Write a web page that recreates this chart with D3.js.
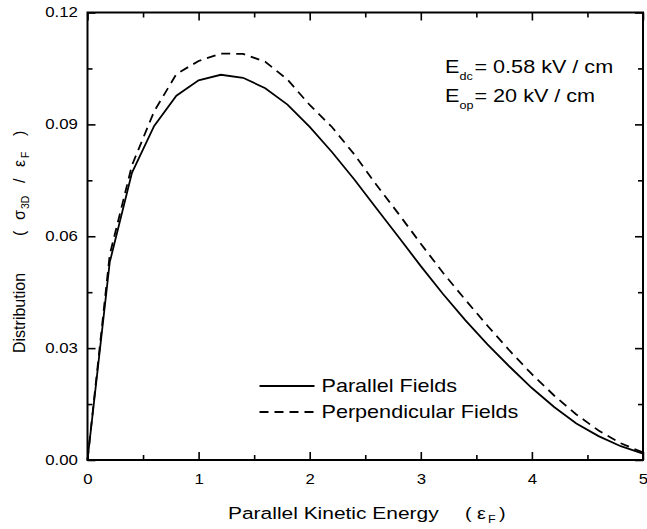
<!DOCTYPE html>
<html>
<head>
<meta charset="utf-8">
<script src="https://cdn.jsdelivr.net/npm/d3@7"></script>
<style>
  body { margin: 0; background: #fff; }
  text { font-family: "Liberation Sans", Arial, sans-serif; fill: #000; }
</style>
</head>
<body>
<div id="chart"></div>
<script>
// Data
var energy = [0, 0.2, 0.4, 0.6, 0.8, 1.0, 1.2, 1.4, 1.6, 1.8, 2.0, 2.2, 2.4, 2.6, 2.8,
              3.0, 3.2, 3.4, 3.6, 3.8, 4.0, 4.2, 4.4, 4.6, 4.8, 5.0];
var parallel = [0, 0.053, 0.077, 0.0896, 0.0977, 0.1018, 0.1033, 0.1025, 0.0997, 0.0953,
                0.0893, 0.0826, 0.0753, 0.0675, 0.0598, 0.052, 0.0445, 0.0375, 0.031,
                0.025, 0.0193, 0.0142, 0.0098, 0.0064, 0.0037, 0.0017];
var perpendicular = [0, 0.055, 0.079, 0.0935, 0.1035, 0.107, 0.109, 0.1089, 0.1068, 0.102,
                     0.0952, 0.0893, 0.082, 0.0738, 0.066, 0.058, 0.0502, 0.043, 0.036,
                     0.0293, 0.023, 0.0173, 0.0122, 0.0079, 0.0045, 0.002];
var xTicks = [0, 1, 2, 3, 4, 5];
var xMinor = [0.5, 1.5, 2.5, 3.5, 4.5];
var yTicks = [0, 0.03, 0.06, 0.09, 0.12];
var yMinor = [0.015, 0.045, 0.075, 0.105];
var seriesNames = ["Parallel Fields", "Perpendicular Fields"];

var width = 647, height = 529;
var margin = { top: 12.5, right: 4, bottom: 69, left: 87.5 };
var w = width - margin.left - margin.right;
var h = height - margin.top - margin.bottom;
var stretch = 1.2;   // the original lettering is wider than Arial

var svg = d3.select("#chart")
    .append("svg")
    .attr("width", width)
    .attr("height", height);

var g = svg.append("g")
    .attr("transform", "translate(" + margin.left + "," + margin.top + ")");

var x = d3.scaleLinear().domain([0, 5]).range([0, w]);
var y = d3.scaleLinear().domain([0, 0.12]).range([h, 0]);

// axes: major ticks with labels, minor ticks without, all pointing inward
function addAxis(axis, transform, labels) {
    var a = g.append("g").attr("transform", transform).call(axis);
    a.select(".domain").remove();
    a.selectAll("line").attr("stroke", "#000").attr("stroke-width", 1.6);
    a.selectAll("text").attr("font-size", 14).attr("fill", "#000")
        .attr("transform", "scale(" + stretch + ",1)")
        .style("font-family", "'Liberation Sans', Arial, sans-serif");
    if (!labels) a.selectAll("text").remove();
    return a;
}

addAxis(d3.axisBottom(x).tickValues(xTicks).tickSize(-8).tickPadding(14).tickFormat(d3.format("d")),
    "translate(0," + h + ")", true);
addAxis(d3.axisBottom(x).tickValues(xMinor).tickSize(-5), "translate(0," + h + ")", false);
addAxis(d3.axisTop(x).tickValues(xTicks).tickSize(-8), "translate(0,0)", false);
addAxis(d3.axisTop(x).tickValues(xMinor).tickSize(-5), "translate(0,0)", false);

addAxis(d3.axisLeft(y).tickValues(yTicks).tickSize(-8).tickPadding(8).tickFormat(d3.format(".2f")),
    "translate(0,0)", true);
addAxis(d3.axisLeft(y).tickValues(yMinor).tickSize(-5), "translate(0,0)", false);
addAxis(d3.axisRight(y).tickValues(yTicks).tickSize(-8), "translate(" + w + ",0)", false);
addAxis(d3.axisRight(y).tickValues(yMinor).tickSize(-5), "translate(" + w + ",0)", false);

// frame
g.append("rect")
    .attr("width", w)
    .attr("height", h)
    .attr("fill", "none")
    .attr("stroke", "#000")
    .attr("stroke-width", 2);

// curves
var line = d3.line()
    .x(function (d, i) { return x(energy[i]); })
    .y(function (d) { return y(d); });

g.append("path")
    .datum(parallel)
    .attr("d", line)
    .attr("fill", "none")
    .attr("stroke", "#000")
    .attr("stroke-width", 1.8);

g.append("path")
    .datum(perpendicular)
    .attr("d", line)
    .attr("fill", "none")
    .attr("stroke", "#000")
    .attr("stroke-width", 1.8)
    .attr("stroke-dasharray", "9,6");

// small helper: a piece of text at (px, py) in page coords
function label(px, py, str, size, rot) {
    var t = svg.append("text")
        .attr("transform", "translate(" + px + "," + py + ")" +
            (rot ? " rotate(-90)" : " scale(" + stretch + ",1)"))
        .attr("font-size", size)
        .text(str);
    return t;
}

// legend
var lg = g.selectAll("g.legend")
    .data(seriesNames)
    .enter()
    .append("g")
    .attr("class", "legend")
    .attr("transform", function (d, i) { return "translate(172," + (373.5 + i * 26) + ")"; });
lg.append("line")
    .attr("x1", 0).attr("x2", 55)
    .attr("stroke", "#000")
    .attr("stroke-width", 1.8)
    .attr("stroke-dasharray", function (d, i) { return i ? "9,6" : null; });
lg.append("text")
    .attr("transform", "translate(62,0) scale(" + stretch + ",1)")
    .attr("dy", "0.36em")
    .attr("font-size", 18)
    .text(function (d) { return d; });

// field annotation
label(445, 72.5, "E", 18);
label(459.5, 79.5, "dc", 10.5);
label(474.5, 72.5, "= 0.58 kV / cm", 18);
label(445, 101.5, "E", 18);
label(459.5, 108.5, "op", 10.5);
label(474.5, 101.5, "= 20 kV / cm", 18);

// x axis title
label(228, 519, "Parallel Kinetic Energy", 16.5).attr("transform", "translate(228,519) scale(1.27,1)");
label(465, 519, "(", 16.5);
label(477, 519, "\u03b5", 16.5);
label(488, 523, "F", 10.5);
label(499, 519, ")", 16.5);

// y axis title (rotated, reading upward)
label(25, 353, "Distribution", 16, true);
label(25, 236, "(", 16, true);
label(25, 220, "\u03c3", 16, true);
label(29, 209, "3D", 10.5, true);
label(25, 183, "/", 16, true);
label(25, 167, "\u03b5", 16, true);
label(29, 158, "F", 10.5, true);
label(25, 136, ")", 16, true);
</script>
</body>
</html>
